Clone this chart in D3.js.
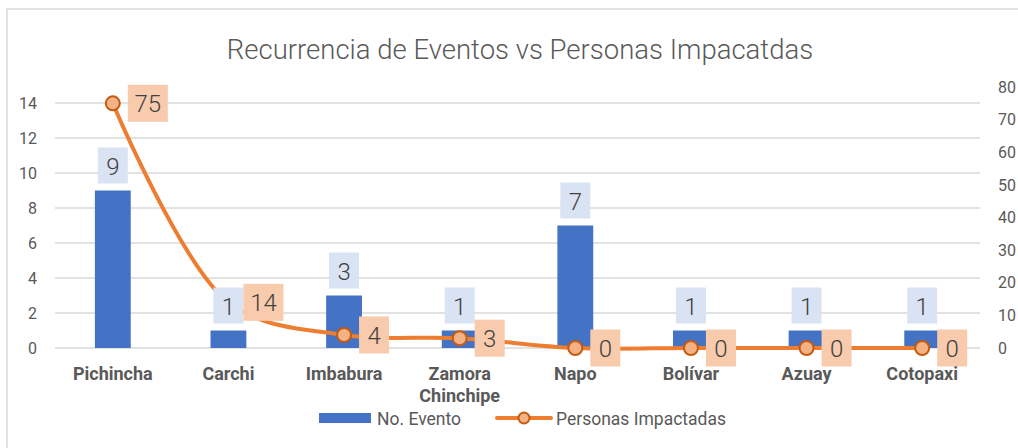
<!DOCTYPE html>
<html><head><meta charset="utf-8">
<script src="https://cdn.jsdelivr.net/npm/d3@7"></script>
<style>body{margin:0;background:#fff;} text{font-family:Roboto, "Noto Sans", sans-serif;}</style>
</head><body>
<svg id="c" width="1018" height="448"></svg>
<script>
const categories = ["Pichincha","Carchi","Imbabura","Zamora Chinchipe","Napo","Bolívar","Azuay","Cotopaxi"];
const eventos = [9,1,3,1,7,1,1,1];
const personas = [75,14,4,3,0,0,0,0];
const leftTicks = [0,2,4,6,8,10,12,14];
const rightTicks = [0,10,20,30,40,50,60,70,80];

const svg = d3.select("#c");
svg.append("rect").attr("x",7).attr("y",9).attr("width",1020).attr("height",460)
  .attr("fill","#fff").attr("stroke","#D9D9D9").attr("stroke-width",1.5);

const L=55, R=980, T=87, B=348;
const x = d3.scaleBand().domain(categories).range([L,R]).paddingInner(0.69).paddingOuter(0.345);
const xc = d => x(d)+x.bandwidth()/2;
const yL = d3.scaleLinear().domain([0, 14*(B-T)/(B-103)]).range([B,T]);
const yR = d3.scaleLinear().domain([0,80]).range([B,T]);

// gridlines
svg.append("g").selectAll("line").data(leftTicks).join("line")
  .attr("x1",L).attr("x2",R).attr("y1",d=>yL(d)).attr("y2",d=>yL(d))
  .attr("stroke","#D9D9D9").attr("stroke-width",1.5);

// left axis
const gl = svg.append("g").attr("transform",`translate(${L-18},0)`)
  .call(d3.axisLeft(yL).tickValues(leftTicks).tickSize(0).tickPadding(0));
gl.select(".domain").remove();
gl.selectAll("text").attr("fill","#595959").style("font-size","16px");

// right axis
const gr = svg.append("g").attr("transform",`translate(${R+18},0)`)
  .call(d3.axisRight(yR).tickValues(rightTicks).tickSize(0).tickPadding(0));
gr.select(".domain").remove();
gr.selectAll("text").attr("fill","#595959").style("font-size","16px");

// bars
svg.append("g").selectAll("rect").data(categories).join("rect")
  .attr("x",d=>x(d)).attr("width",x.bandwidth())
  .attr("y",(d,i)=>yL(eventos[i])).attr("height",(d,i)=>B-yL(eventos[i]))
  .attr("fill","#4472C4");

// line
const line = d3.line().x((d,i)=>xc(categories[i])).y(d=>yR(d)).curve(d3.curveCatmullRom.alpha(0.5));
svg.append("path").datum(personas).attr("d",line).attr("fill","none")
  .attr("stroke","#ED7D31").attr("stroke-width",4).attr("stroke-linecap","round");
svg.append("g").selectAll("circle").data(personas).join("circle")
  .attr("cx",(d,i)=>xc(categories[i])).attr("cy",d=>yR(d)).attr("r",7)
  .attr("fill","#F4B183").attr("stroke","#C55A11").attr("stroke-width",2);

// bar labels
const bl = svg.append("g").selectAll("g").data(eventos).join("g")
  .attr("transform",(d,i)=>`translate(${xc(categories[i])},${yL(d)-7})`);
bl.append("rect").attr("x",-15).attr("y",-36).attr("width",30).attr("height",36).attr("fill","#DAE3F3");
bl.append("text").attr("y",-9).attr("text-anchor","middle").attr("fill","#404040")
  .style("font-size","24px").style("font-weight","300").text(d=>d);

// line labels
const ll = svg.append("g").selectAll("g").data(personas).join("g")
  .attr("transform",(d,i)=>`translate(${xc(categories[i])+15},${yR(d)})`);
ll.append("rect").attr("x",0).attr("y",-18.5).attr("width",d=>String(d).length>1?40:30).attr("height",37).attr("fill","#F8CBAD");
ll.append("text").attr("x",d=>String(d).length>1?20:15).attr("y",9).attr("text-anchor","middle").attr("fill","#404040")
  .style("font-size","24px").style("font-weight","300").text(d=>d);

// x labels
const xl = svg.append("g").selectAll("text").data(categories).join("text")
  .attr("x",d=>xc(d)).attr("y",380).attr("text-anchor","middle")
  .attr("fill","#595959").style("font-size","18px").style("font-weight","bold");
xl.each(function(d){
  const parts = d==="Zamora Chinchipe" ? ["Zamora","Chinchipe"] : [d];
  parts.forEach((p,k)=>d3.select(this).append("tspan").attr("x",xc(d)).attr("dy",k?22:0).text(p));
});

// title
svg.append("text").attr("x",520).attr("y",59).attr("text-anchor","middle").attr("fill","#595959")
  .style("font-size","27.5px").style("font-weight","300").text("Recurrencia de Eventos vs Personas Impacatdas");

// legend
const lg = svg.append("g");
lg.append("rect").attr("x",319).attr("y",413).attr("width",52).attr("height",10).attr("fill","#4472C4");
lg.append("text").attr("x",377).attr("y",425).attr("fill","#595959").style("font-size","17.5px").text("No. Evento");
lg.append("line").attr("x1",497).attr("x2",551).attr("y1",418).attr("y2",418).attr("stroke","#ED7D31").attr("stroke-width",4).attr("stroke-linecap","round");
lg.append("circle").attr("cx",524).attr("cy",418).attr("r",5.5).attr("fill","#F4B183").attr("stroke","#C55A11").attr("stroke-width",2);
lg.append("text").attr("x",556).attr("y",425).attr("fill","#595959").style("font-size","17.5px").text("Personas Impactadas");
</script>
</body></html>
